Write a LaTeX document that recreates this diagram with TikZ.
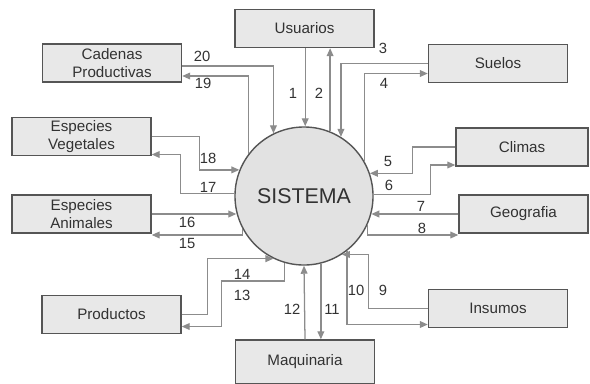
\documentclass[tikz,border=0pt]{standalone}
\usepackage{fontspec}
\setmainfont{Liberation Sans}
\usetikzlibrary{arrows.meta,calc}
\definecolor{boxline}{RGB}{85,85,85}
\definecolor{boxfill}{RGB}{232,232,232}
\definecolor{ballfill}{RGB}{226,226,226}
\definecolor{flowline}{RGB}{140,140,140}
\definecolor{txt}{RGB}{50,50,50}
\begin{document}
\begin{tikzpicture}[x=0.025cm,y=-0.025cm,
    box/.style={draw=boxline,fill=boxfill,line width=1pt,minimum width=3.475cm,minimum height=0.95cm,inner sep=0pt,align=center,font=\fontsize{10.8}{12.5}\selectfont,text=txt},
    flow/.style={draw=flowline,line width=0.9pt,-{Triangle[length=0.2cm,width=0.17cm]}},
    num/.style={font=\fontsize{10.5}{12}\selectfont,text=txt,inner sep=0pt}]
    \useasboundingbox (0,0) rectangle (590,383);
    \clip (0,0) rectangle (590,383);
    \node[draw=boxline,fill=ballfill,line width=1pt,circle,minimum size=3.45cm,inner sep=0pt,text=txt,font=\fontsize{15.2}{18}\selectfont] (sistema) at (304,196) {SISTEMA};
    \node[box] (usuarios) at (304.5,28.5) {Usuarios};
    \node[box] (suelos) at (498,63.5) {Suelos};
    \node[box,minimum width=3.3cm] (climas) at (522,147) {Climas};
    \node[box,minimum width=3.225cm] (geografia) at (523.5,214) {Geografia};
    \node[box] (insumos) at (498,308.5) {Insumos};
    \node[box,minimum height=1.1cm] (maquinaria) at (305,362) {Maquinaria};
    \node[box] (productos) at (111.5,314.5) {Productos};
    \node[box] (animales) at (81.5,214) {Especies\\Animales};
    \node[box] (vegetales) at (81.5,136.5) {Especies\\Vegetales};
    \node[box] (cadenas) at (112,63) {Cadenas\\Productivas};
    \draw[flow] (sistema.89 |- usuarios.south) -- (sistema.89);
    \draw[flow] (sistema.68) -- (sistema.68 |- usuarios.south);
    \draw[flow] (suelos.west) -| (sistema.58);
    \draw[flow] (sistema.30) |- ($(suelos.west)+(0,10)$);
    \draw[flow] (climas.west) -- ++(-43,0) |- (sistema.19);
    \draw[flow] (sistema.1) -- ++(57,0) |- ($(climas.west)+(0,18)$);
    \draw[flow] (geografia.west) -- (geografia.west -| sistema.-15);
    \draw[flow] (sistema.-24) |- ($(geografia.west)+(0,21)$);
    \draw[flow] (insumos.west) -- ++(-59,0) |- (sistema.-57);
    \draw[flow] (sistema.-52) |- ($(insumos.west)+(0,16)$);
    \draw[flow] (sistema.-76) -- (sistema.-76 |- maquinaria.north);
    \draw[flow] (maquinaria.north) -- (sistema.south);
    \draw[flow] (sistema.-106) -- ++(0,18) -| ($(productos.east)+(40,12)$) -- ($(productos.east)+(0,12)$);
    \draw[flow] (productos.east) -- ++(26,0) |- (sistema.-116);
    \draw[flow] (sistema.-152) |- ($(animales.east)+(0,21)$);
    \draw[flow] (animales.east) -- (animales.east -| sistema.-166);
    \draw[flow] (sistema.178) -- ++(-54,0) |- ($(vegetales.east)+(0,18)$);
    \draw[flow] (vegetales.east) -- ++(48,0) |- (sistema.158);
    \draw[flow] (sistema.143) |- ($(cadenas.east)+(0,13)$);
    \draw[flow] ($(cadenas.east)+(0,3)$) -| (sistema.116);
    \foreach \n/\x/\y in {1/293/93,2/319/93,3/383/48,4/384/83,5/388/161,6/389/185,7/421/206,8/422/228,9/383/290,10/356/290,
        11/332/309,12/292/309,13/242/295,14/242/274,15/187/243,16/187/222,17/208/187,18/208/158,19/203/83,20/202/56}
        \node[num] (l\n) at (\x,\y) {\n};
\end{tikzpicture}
\end{document}
